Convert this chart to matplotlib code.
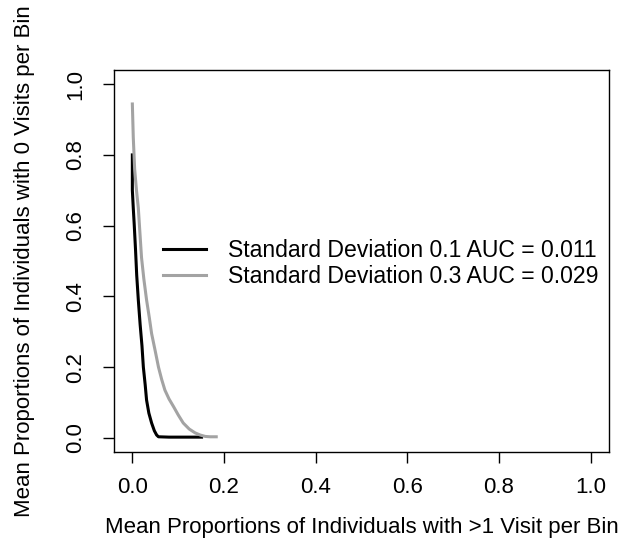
import matplotlib
matplotlib.use("Agg")
import matplotlib.pyplot as plt

plt.rcParams['font.family'] = ['Liberation Sans', 'DejaVu Sans']

# curve for SD 0.1 (black)
x_sd01 = [0.0, 0.0, 0.002, 0.004, 0.007, 0.0095, 0.013, 0.017, 0.021, 0.024, 0.028,
          0.031, 0.036, 0.042, 0.048, 0.053, 0.057, 0.08, 0.11, 0.151]
y_sd01 = [0.80, 0.70, 0.65, 0.605, 0.53, 0.46, 0.39, 0.32, 0.26, 0.20, 0.15,
          0.107, 0.07, 0.042, 0.02, 0.008, 0.003, 0.002, 0.002, 0.002]

# curve for SD 0.3 (grey)
x_sd03 = [0.0, 0.002, 0.005, 0.009, 0.013, 0.02, 0.025, 0.031, 0.037, 0.042, 0.05,
          0.057, 0.064, 0.071, 0.08, 0.09, 0.1, 0.111, 0.124, 0.137, 0.148,
          0.159, 0.17, 0.183]
y_sd03 = [0.944, 0.85, 0.76, 0.70, 0.65, 0.51, 0.45, 0.39, 0.34, 0.295, 0.245,
          0.20, 0.165, 0.135, 0.11, 0.088, 0.065, 0.042, 0.025, 0.014, 0.008,
          0.004, 0.003, 0.003]

labels = ["Standard Deviation 0.1 AUC = 0.011",
          "Standard Deviation 0.3 AUC = 0.029"]
ticks = [0.0, 0.2, 0.4, 0.6, 0.8, 1.0]

fig = plt.figure(figsize=(6.42, 5.48), dpi=100)
ax = fig.add_axes([0.1776, 0.1752, 0.771, 0.697])

ax.plot(x_sd01, y_sd01, color='black', lw=2.2, label=labels[0])
ax.plot(x_sd03, y_sd03, color='#a3a3a3', lw=2.2, label=labels[1])

ax.set_xlim(-0.04, 1.04)
ax.set_ylim(-0.04, 1.04)
ax.set_xticks(ticks)
ax.set_yticks(ticks)
ax.set_xticklabels([f"{t:.1f}" for t in ticks])
ax.set_yticklabels([f"{t:.1f}" for t in ticks], rotation=90, va='center')
ax.tick_params(direction='out', length=8, width=1, labelsize=16)
ax.tick_params(axis='x', pad=10)
ax.tick_params(axis='y', pad=12)
for s in ax.spines.values():
    s.set_linewidth(1)

ax.set_xlabel("Mean Proportions of Individuals with >1 Visit per Bin", fontsize=16, labelpad=14)
ax.set_ylabel("Mean Proportions of Individuals with 0 Visits per Bin", fontsize=16, labelpad=22)

ax.legend(loc='upper left', bbox_to_anchor=(0.254, 0.563), bbox_transform=fig.transFigure,
          frameon=False, fontsize=16.6, handlelength=1.85, handletextpad=0.95,
          labelspacing=0.12, borderpad=0, borderaxespad=0)

fig.savefig("out.png", dpi=100)
